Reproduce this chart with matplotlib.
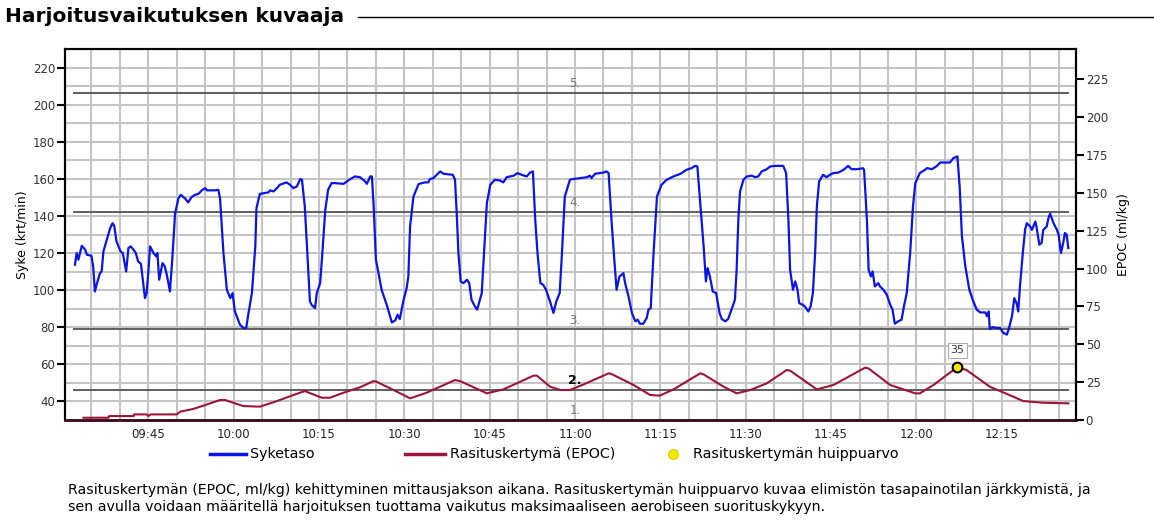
import matplotlib
matplotlib.use("Agg")
import matplotlib.pyplot as plt
from matplotlib.lines import Line2D
from matplotlib.ticker import FixedLocator, FuncFormatter

# aika minuutteina klo 09:00 jälkeen
hr_t = [32.1, 32.4, 32.7, 33.3, 33.9, 34.2, 35.0, 35.3, 35.6, 35.9, 36.5, 36.8, 37.1, 37.7, 38.3, 38.7,
        39.0, 39.4, 40.1, 40.5, 41.1, 41.5, 41.9, 42.4, 42.8, 43.2, 43.7, 44.4, 44.7, 45.0, 45.3, 45.9,
        46.4, 46.6, 46.9, 47.5, 47.9, 48.3, 48.8, 49.2, 49.7, 50.3, 50.7, 51.4, 52.0, 52.6, 53.2, 53.8,
        54.4, 55.0, 55.3, 56.7, 57.3, 57.6, 58.2, 58.8, 59.4, 59.8, 60.2, 61.1, 61.7, 62.2, 62.6, 63.2,
        63.8, 64.0, 64.6, 66.1, 66.4, 67.0, 67.6, 68.1, 69.3, 69.9, 70.5, 71.1, 71.7, 72.0, 72.5, 73.0,
        73.4, 73.7, 74.3, 74.6, 75.2, 75.5, 76.1, 76.6, 77.2, 77.8, 79.3, 79.9, 80.5, 81.3, 82.2, 83.1,
        83.4, 84.0, 84.3, 84.6, 85.0, 85.4, 86.0, 86.9, 87.8, 88.4, 88.8, 89.2, 89.8, 90.4, 90.7, 91.0,
        91.6, 92.5, 93.6, 94.2, 94.5, 95.1, 95.7, 96.3, 96.9, 98.5, 98.9, 99.2, 99.5, 99.9, 100.4, 101.0,
        101.4, 101.8, 102.4, 102.8, 103.6, 104.0, 104.5, 105.1, 105.9, 106.8, 107.4, 108.0, 108.6, 109.2,
        109.9, 110.6, 111.5, 112.1, 112.6, 113.0, 113.4, 113.9, 114.4, 114.9, 115.6, 116.2, 116.7, 117.3,
        117.7, 118.2, 119.1, 119.7, 120.9, 122.1, 122.6, 122.9, 123.5, 125.0, 125.5, 125.9, 126.4, 126.9,
        127.3, 127.8, 128.2, 128.5, 128.8, 129.4, 130.0, 130.6, 131.0, 131.4, 132.0, 132.6, 132.9, 133.3,
        133.8, 134.4, 135.2, 136.1, 137.3, 138.5, 139.6, 140.5, 141.1, 141.5, 142.0, 142.6, 143.0, 143.3,
        143.7, 144.2, 144.8, 145.4, 145.8, 146.4, 146.9, 147.5, 148.1, 148.4, 148.7, 149.0, 149.6, 150.2,
        151.1, 151.6, 152.2, 152.8, 153.7, 154.3, 155.2, 156.6, 157.1, 157.5, 157.8, 158.3, 158.7, 159.1,
        159.4, 160.0, 160.4, 161.0, 161.4, 161.8, 162.2, 162.5, 162.9, 163.6, 164.2, 164.8, 165.4, 166.3,
        167.2, 168.0, 168.6, 169.5, 170.6, 170.8, 171.3, 171.6, 172.0, 172.3, 172.7, 173.3, 173.6, 174.2,
        174.8, 175.4, 175.8, 176.2, 176.8, 177.4, 177.8, 178.3, 178.9, 179.4, 179.8, 180.6, 181.5, 181.9,
        182.7, 183.5, 184.2, 185.9, 186.5, 187.2, 187.6, 188.0, 188.6, 188.8, 189.3, 189.9, 190.6, 191.2,
        192.1, 192.4, 192.7, 192.9, 193.4, 194.1, 194.7, 195.3, 195.9, 196.2, 196.8, 197.2, 197.6, 197.9,
        198.2, 198.7, 199.1, 199.4, 200.0, 200.3, 200.9, 201.1, 201.6, 202.0, 202.3, 202.9, 203.2, 203.5,
        204.1, 204.7, 205.0, 205.4, 205.8, 206.1, 206.4, 206.7]
hr = [113.7, 120.0, 116.4, 123.9, 121.8, 119.1, 118.5, 112.8, 99.3, 102.9, 109.2, 110.1, 120.9, 127.2, 133.5, 136.1,
      134.7, 126.3, 120.9, 120.0, 110.1, 122.7, 123.6, 121.8, 120.0, 115.5, 114.2, 95.7, 98.4, 110.1, 123.6, 120.0,
      118.2, 120.0, 105.6, 114.6, 112.8, 107.4, 99.3, 116.4, 141.5, 149.6, 151.4, 149.6, 147.3, 150.2, 151.4, 151.9,
      153.8, 155.0, 153.8, 153.8, 154.1, 149.6, 120.0, 100.2, 95.7, 98.4, 88.6, 81.4, 79.6, 79.6, 87.6, 98.4,
      123.6, 144.2, 151.9, 152.7, 153.8, 153.2, 155.0, 156.8, 158.1, 156.8, 155.0, 155.9, 159.9, 159.5, 145.1, 116.4,
      93.9, 92.1, 90.3, 98.4, 103.8, 116.4, 143.3, 154.1, 157.7, 157.7, 157.3, 158.6, 159.9, 161.3, 160.9, 158.6,
      157.3, 161.3, 161.3, 145.1, 116.4, 110.1, 100.2, 92.1, 82.6, 83.7, 86.8, 84.4, 93.9, 101.1, 107.4, 134.3,
      150.5, 157.2, 158.1, 158.1, 159.9, 160.4, 162.2, 164.0, 162.7, 162.2, 159.5, 141.5, 120.0, 104.7, 103.8, 105.6,
      103.8, 94.8, 91.2, 89.5, 98.4, 120.0, 146.9, 156.8, 159.5, 159.1, 158.1, 160.9, 161.3, 161.7,
      163.1, 162.2, 161.3, 163.4, 164.0, 137.9, 120.0, 103.8, 102.9, 100.2, 93.9, 87.7, 93.9, 98.4,
      120.0, 150.5, 159.5, 159.9, 160.4, 160.9, 161.7, 160.4, 162.7, 163.4, 164.0, 163.1, 137.9, 116.4,
      100.2, 107.4, 108.3, 109.2, 103.8, 96.6, 87.7, 83.2, 84.1, 81.9, 81.9, 85.0, 89.5, 90.3,
      120.0, 150.5, 156.8, 159.5, 161.3, 162.7, 164.9, 165.8, 167.0, 166.7, 146.9, 123.6, 104.7, 111.9,
      107.4, 99.3, 98.4, 87.7, 84.4, 83.2, 84.4, 89.5, 94.8, 111.0, 137.9, 153.2, 159.5, 161.3,
      161.7, 160.9, 161.3, 164.0, 165.2, 166.7, 167.0, 167.0, 163.1, 137.9, 111.0, 100.2, 104.7, 100.2,
      93.0, 92.1, 91.2, 88.5, 91.2, 98.4, 120.0, 145.1, 158.6, 162.2, 160.9, 162.2, 163.1, 163.4,
      164.9, 167.0, 165.2, 165.2, 165.7, 164.9, 137.9, 111.0, 107.4, 110.1, 102.0, 103.8, 102.0, 100.2,
      97.5, 92.1, 89.5, 81.9, 83.2, 84.1, 91.2, 98.4, 120.0, 145.1, 157.7, 163.1, 164.9, 165.8,
      165.2, 166.7, 168.8, 168.8, 171.2, 172.1, 155.9, 129.0, 112.8, 109.2, 100.2, 94.8, 89.5, 88.0,
      88.0, 85.9, 88.5, 79.0, 80.1, 79.6, 79.6, 76.9, 76.0, 78.7, 85.9, 95.7, 93.0, 88.5,
      102.0, 120.0, 132.5, 136.1, 134.3, 132.5, 137.0, 134.3, 124.5, 125.4, 132.5, 134.3, 138.8, 141.2,
      136.1, 132.5, 129.9, 120.0, 125.4, 130.8, 129.9, 122.7]

epoc_t = [33.6, 38.0, 38.1, 42.4, 42.5, 44.7, 45.0, 45.4, 50.0, 50.6, 52.9, 55.0, 57.6, 58.5, 59.9, 61.7,
          64.6, 67.6, 70.5, 72.5, 74.0, 75.5, 76.9, 79.3, 82.2, 84.6, 85.1, 88.1, 91.0, 93.9, 98.9, 99.8,
          104.5, 107.4, 112.7, 113.3, 115.6, 117.4, 119.1, 121.5, 125.9, 126.4, 130.3, 133.2, 134.9, 137.3,
          142.0, 142.6, 146.1, 148.4, 150.8, 153.7, 157.2, 157.8, 162.5, 165.4, 171.0, 171.6, 175.4, 179.8,
          180.6, 183.0, 187.2, 188.8, 192.9, 198.8, 202.3, 206.7]
epoc = [1.5, 1.5, 2.6, 2.6, 3.7, 3.7, 2.6, 3.7, 3.7, 5.5, 7.3, 9.9, 13.2, 13.2, 11.4, 9.2,
        8.8, 12.5, 16.5, 19.1, 16.9, 14.7, 14.7, 18.0, 21.6, 25.7, 25.3, 19.8, 14.3, 18.0, 26.4, 25.7,
        17.6, 20.2, 29.3, 29.3, 22.0, 19.8, 19.8, 23.5, 30.8, 30.4, 23.1, 16.5, 16.1, 20.2,
        30.8, 30.1, 22.0, 17.6, 19.8, 24.2, 33.0, 32.6, 20.2, 23.1, 34.6, 34.0, 23.1, 17.6,
        17.6, 23.1, 35.0, 33.0, 22.0, 12.5, 11.4, 11.0]

peak_t = 187.2
peak_epoc = 35

zone_levels = [206.5, 142.1, 79.0, 46.3]
zone_names = ["5.", "4.", "3.", "2.", "1."]
zone_label_y = [211.3, 147.0, 83.6, 51.2, 35.0]

x_ticks = [45, 60, 75, 90, 105, 120, 135, 150, 165, 180, 195]

caption1 = ("Rasituskertymän (EPOC, ml/kg) kehittyminen mittausjakson aikana. Rasituskertymän huippuarvo "
            "kuvaa elimistön tasapainotilan järkkymistä, ja")
caption2 = "sen avulla voidaan määritellä harjoituksen tuottama vaikutus maksimaaliseen aerobiseen suorituskykyyn."

HR_C = "#0a14e6"
EPOC_C = "#9c1438"

W, H = 1154, 525
fig = plt.figure(figsize=(W / 100, H / 100), dpi=100)
fig.patch.set_facecolor("white")
ax = fig.add_axes([65 / W, 1 - 420 / H, 1011 / W, 371 / H])
ax2 = ax.twinx()

xmin, xmax = 30.35, 208.05
ax.set_xlim(xmin, xmax)
ax.set_ylim(30, 230)
ax2.set_ylim(0, 245)

# ruudukko
grid_c = "#c4c4c4"
for m in range(35, 210, 5):
    ax.axvline(m, color=grid_c, lw=1.5, zorder=0)
for v in range(40, 230, 10):
    ax.axhline(v, color=grid_c, lw=1.5, zorder=0)

# tasorajat
for lev in zone_levels:
    ax.hlines(lev, xmin + 1.35, xmax - 1.2, color="#5e5e5e", lw=1.4, zorder=1)
for name, yy in zip(zone_names, zone_label_y):
    if name == "2.":
        ax.text(120, yy, name, ha="center", va="center", fontsize=9, fontweight="bold", color="black")
    else:
        ax.text(120, yy, name, ha="center", va="center", fontsize=8.5, color="#777777")

ax.plot(hr_t, hr, color=HR_C, lw=1.6, zorder=3)
ax2.plot(epoc_t, epoc, color=EPOC_C, lw=1.5, zorder=3)
ax2.plot([peak_t], [peak_epoc], "o", ms=7, mfc="#f5e800", mec="black", mew=1.5, zorder=4)
ax2.annotate(str(peak_epoc), (peak_t, peak_epoc), xytext=(0, 12), textcoords="offset points",
             ha="center", va="center", fontsize=8, color="#333333",
             bbox=dict(boxstyle="square,pad=0.25", fc="white", ec="#aaaaaa", lw=0.8))

# akselit
ax.xaxis.set_major_locator(FixedLocator(x_ticks))
ax.xaxis.set_major_formatter(FuncFormatter(lambda v, p: f"{int(v) // 60 + 9:02d}:{int(v) % 60:02d}"))
ax.tick_params(axis="x", length=0, pad=6, labelsize=8.5, labelcolor="#222222")
ax.set_yticks(range(40, 221, 20))
ax.tick_params(axis="y", length=6, width=1.5, labelsize=8.5, labelcolor="#333333", pad=1)
ax2.set_yticks(range(0, 226, 25))
ax2.tick_params(axis="y", length=6, width=1.5, labelsize=8.5, labelcolor="#333333", pad=1)

for a in (ax, ax2):
    for s in ("left", "right", "top"):
        a.spines[s].set_linewidth(1.5)
        a.spines[s].set_color("black")
    a.spines["bottom"].set_linewidth(1.8)
    a.spines["bottom"].set_color("#3c0a1e")

ax.set_ylabel("Syke (krt/min)", fontsize=9)
ax.yaxis.set_label_coords(-36 / 1011, 0.5)
ax2.set_ylabel("EPOC (ml/kg)", fontsize=9)
ax2.yaxis.set_label_coords(1 + 41 / 1011, 0.5)

# otsikko
fig.text(5 / W, 1 - 17 / H, "Harjoitusvaikutuksen kuvaaja", fontsize=14.5, fontweight="bold", va="center")
fig.add_artist(Line2D([358 / W, 1.0], [1 - 17 / H, 1 - 17 / H], transform=fig.transFigure,
                      color="black", lw=1.0))

# selite
ly = 1 - 454 / H
fig.add_artist(Line2D([210 / W, 246 / W], [ly, ly], transform=fig.transFigure, color=HR_C, lw=2.5))
fig.text(250 / W, ly, "Syketaso", fontsize=10.3, va="center")
fig.add_artist(Line2D([405 / W, 445 / W], [ly, ly], transform=fig.transFigure, color=EPOC_C, lw=2.5))
fig.text(450 / W, ly, "Rasituskertymä (EPOC)", fontsize=10.3, va="center")
fig.add_artist(Line2D([673 / W], [ly], transform=fig.transFigure, ls="none", marker="o", ms=7,
                      mfc="#f5e800", mec="#e0d000"))
fig.text(693 / W, ly, "Rasituskertymän huippuarvo", fontsize=10.3, va="center")

fig.text(68 / W, 1 - 490 / H, caption1, fontsize=10.2, va="center")
fig.text(68 / W, 1 - 507 / H, caption2, fontsize=10.2, va="center")

fig.savefig("out.png", dpi=100)
